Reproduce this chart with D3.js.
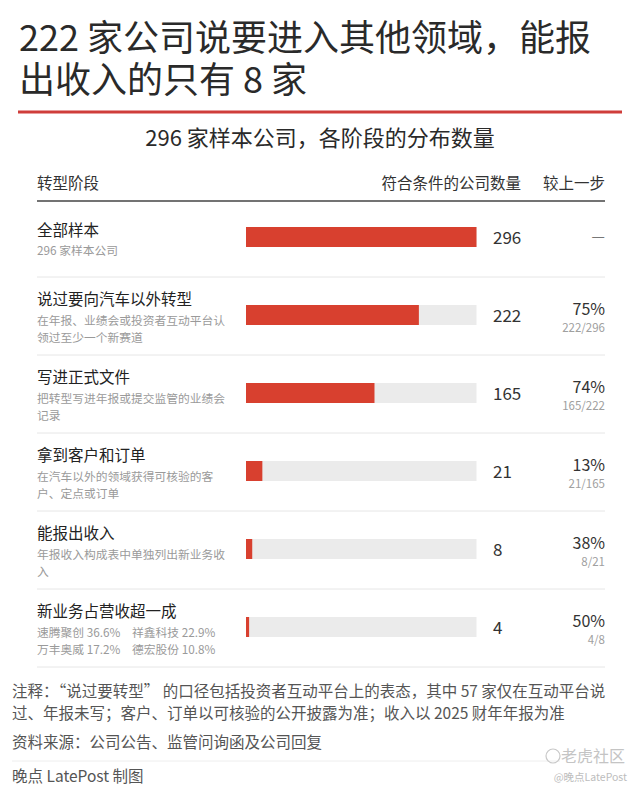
<!DOCTYPE html>
<html>
<head>
<meta charset="utf-8">
<script src="https://cdn.jsdelivr.net/npm/d3@7"></script>
<style>
  html, body { margin: 0; padding: 0; background: #fff; }
  #chart { position: relative; width: 640px; height: 793px; }
  svg { display: block; font-family: "Noto Sans CJK SC", "Noto Sans", sans-serif; }
  .title {
    position: absolute; left: 19px; top: 14px;
    font-family: "Noto Sans CJK SC", "Noto Sans", sans-serif;
    font-size: 36px; line-height: 42px; color: #2a2a2a; white-space: nowrap;
  }
</style>
</head>
<body>
<div id="chart"></div>
<script>
// stages of the funnel
const stages = ["全部样本", "说过要向汽车以外转型", "写进正式文件", "拿到客户和订单", "能报出收入", "新业务占营收超一成"];
const notes = [
  ["296 家样本公司"],
  ["在年报、业绩会或投资者互动平台认", "领过至少一个新赛道"],
  ["把转型写进年报或提交监管的业绩会", "记录"],
  ["在汽车以外的领域获得可核验的客", "户、定点或订单"],
  ["年报收入构成表中单独列出新业务收", "入"],
  null
];
const counts = [296, 222, 165, 21, 8, 4];
const pctLabels = ["—", "75%", "74%", "13%", "38%", "50%"];
const fracLabels = ["", "222/296", "165/222", "21/165", "8/21", "4/8"];

// companies where new business is over 10% of revenue
const companies = ["速腾聚创", "祥鑫科技", "万丰奥威", "德宏股份"];
const shares = ["36.6%", "22.9%", "17.2%", "10.8%"];

const titleLines = ["222 家公司说要进入其他领域，能报", "出收入的只有 8 家"];

const width = 640, height = 793;
const red = "#d8402f";

const chart = d3.select("#chart");

const svg = chart.append("svg")
  .attr("width", width)
  .attr("height", height);

svg.append("rect").attr("width", width).attr("height", height).attr("fill", "#fff");

// title (html so the two lines keep a tight line height)
chart.append("div")
  .attr("class", "title")
  .selectAll("div")
  .data(titleLines)
  .enter().append("div")
  .text(d => d);

svg.append("line")
  .attr("x1", 18).attr("x2", 622)
  .attr("y1", 112).attr("y2", 112)
  .attr("stroke", "#cf3d3a")
  .attr("stroke-width", 3);

svg.append("text")
  .attr("x", 320).attr("y", 146)
  .attr("text-anchor", "middle")
  .attr("font-size", 22)
  .attr("fill", "#2a2a2a")
  .text("296 家样本公司，各阶段的分布数量");

// header
const header = svg.append("g").attr("font-size", 15.5).attr("fill", "#333");
header.append("text").attr("x", 37).attr("y", 189).text("转型阶段");
header.append("text").attr("x", 521).attr("y", 189).attr("text-anchor", "end").text("符合条件的公司数量");
header.append("text").attr("x", 605).attr("y", 189).attr("text-anchor", "end").text("较上一步");

svg.append("line")
  .attr("x1", 37).attr("x2", 605)
  .attr("y1", 201).attr("y2", 201)
  .attr("stroke", "#444")
  .attr("stroke-width", 1.5);

// scales
const y = d3.scaleBand()
  .domain(stages)
  .range([199, 667]);

const x = d3.scaleLinear()
  .domain([0, d3.max(counts)])
  .range([246, 476.5]);

const barH = 20;
const rows = svg.selectAll(".row")
  .data(stages)
  .enter().append("g")
  .attr("class", "row")
  .attr("transform", d => `translate(0, ${y(d) + y.bandwidth() / 2 - 1})`);

// separators
svg.selectAll(".sep")
  .data(stages.slice(1).concat(["end"]))
  .enter().append("line")
  .attr("x1", 37).attr("x2", 605)
  .attr("y1", d => d === "end" ? 667 : y(d))
  .attr("y2", d => d === "end" ? 667 : y(d))
  .attr("stroke", "#e6e6e6")
  .attr("stroke-width", 1);

// background bars
rows.append("rect")
  .attr("x", x(0))
  .attr("y", -barH / 2)
  .attr("width", x(d3.max(counts)) - x(0))
  .attr("height", barH)
  .attr("fill", "#ebebeb");

rows.append("rect")
  .attr("x", x(0))
  .attr("y", -barH / 2)
  .attr("width", (d, i) => x(counts[i]) - x(0))
  .attr("height", barH)
  .attr("fill", red);

rows.append("text")
  .attr("x", 493)
  .attr("y", 6.5)
  .attr("font-size", 17)
  .attr("fill", "#333")
  .text((d, i) => counts[i]);

rows.append("text")
  .attr("x", 605)
  .attr("y", (d, i) => i === 0 ? 5 : 0)
  .attr("text-anchor", "end")
  .attr("font-size", (d, i) => i === 0 ? 15 : 16)
  .attr("fill", (d, i) => i === 0 ? "#777" : "#333")
  .text((d, i) => pctLabels[i]);

rows.append("text")
  .attr("x", 605)
  .attr("y", 17)
  .attr("text-anchor", "end")
  .attr("font-size", 11.5)
  .attr("fill", "#a0a0a0")
  .text((d, i) => fracLabels[i]);

// left labels
rows.each(function (d, i) {
  const g = d3.select(this);
  let subs = notes[i];
  if (!subs) {
    subs = [
      `${companies[0]} ${shares[0]}\u2003${companies[1]} ${shares[1]}`,
      `${companies[2]} ${shares[2]}\u2003${companies[3]} ${shares[3]}`
    ];
  }
  const span = 21 + 17 * (subs.length - 1);
  const top = 3.5 - span / 2;
  g.append("text")
    .attr("x", 37)
    .attr("y", top + 5.5)
    .attr("font-size", 15.5)
    .attr("fill", "#222")
    .text(d);
  g.selectAll(".sub")
    .data(subs)
    .enter().append("text")
    .attr("class", "sub")
    .attr("x", 37)
    .attr("y", (s, j) => top + 21 + 17 * j + 4)
    .attr("font-size", 11.75)
    .attr("fill", "#9a9a9a")
    .text(s => s);
});

// footer
const foot = svg.append("g").attr("font-size", 15.5).attr("fill", "#555");
foot.selectAll("text")
  .data([
    "注释：“说过要转型” 的口径包括投资者互动平台上的表态，其中 57 家仅在互动平台说",
    "过、年报未写；客户、订单以可核验的公开披露为准；收入以 2025 财年年报为准",
    "资料来源：公司公告、监管问询函及公司回复"
  ])
  .enter().append("text")
  .attr("x", 12)
  .attr("y", (d, i) => [697, 719, 748][i])
  .text(d => d);

svg.append("line")
  .attr("x1", 12).attr("x2", 560)
  .attr("y1", 761).attr("y2", 761)
  .attr("stroke", "#eee");

svg.append("text")
  .attr("x", 12).attr("y", 782)
  .attr("font-size", 15.5)
  .attr("fill", "#555")
  .text("晚点 LatePost 制图");

// watermark
svg.append("circle")
  .attr("cx", 553).attr("cy", 756).attr("r", 7)
  .attr("fill", "none").attr("stroke", "#c8c8c8").attr("stroke-width", 1.2);
svg.append("text")
  .attr("x", 625).attr("y", 762)
  .attr("text-anchor", "end")
  .attr("font-size", 16)
  .attr("fill", "#c4c4c4")
  .text("老虎社区");
svg.append("text")
  .attr("x", 627).attr("y", 781)
  .attr("text-anchor", "end")
  .attr("font-size", 10.5)
  .attr("fill", "#bdbdbd")
  .text("@晚点LatePost");
</script>
</body>
</html>
